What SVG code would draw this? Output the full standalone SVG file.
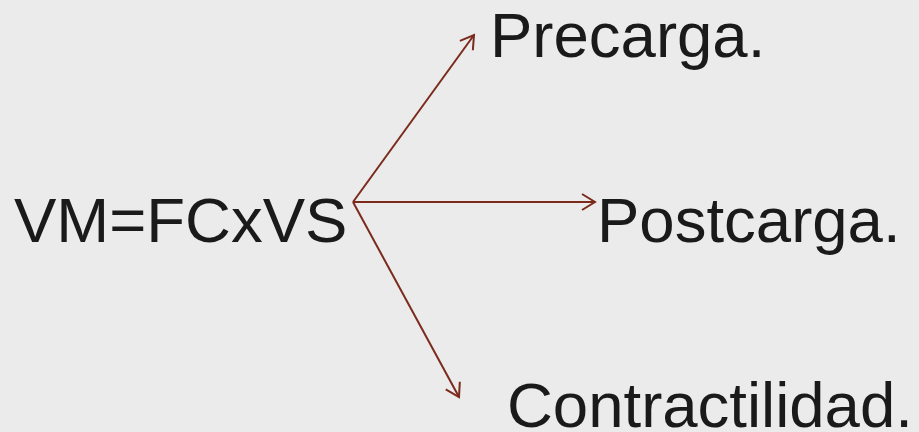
<svg xmlns="http://www.w3.org/2000/svg" width="919" height="432" viewBox="0 0 919 432">
<defs>
<style>
.t{font-family:"Liberation Sans",Arial,sans-serif;font-size:63.5px;fill:#1a1a1a}
.c{stroke:#7b2a1c;stroke-width:2;fill:none}
</style>
<marker id="a" markerUnits="userSpaceOnUse" markerWidth="20" markerHeight="20" refX="16" refY="10" orient="auto">
<path d="M3,2 L16,10 L3,18" fill="none" stroke="#7b2a1c" stroke-width="2"/>
</marker>
</defs>
<rect width="919" height="432" fill="#ebebeb"/>
<g id="connectors">
<line class="c" x1="353" y1="202" x2="474" y2="35" marker-end="url(#a)"/>
<line class="c" x1="353" y1="202" x2="595" y2="202" marker-end="url(#a)"/>
<line class="c" x1="353" y1="202" x2="459" y2="397" marker-end="url(#a)"/>
</g>
<g id="vm"><text class="t" x="14" y="242">VM=FCxVS</text></g>
<g id="precarga"><text class="t" x="490" y="57">Precarga.</text></g>
<g id="postcarga"><text class="t" x="597" y="242">Postcarga.</text></g>
<g id="contractilidad"><text class="t" x="507" y="427">Contractilidad.</text></g>
</svg>
